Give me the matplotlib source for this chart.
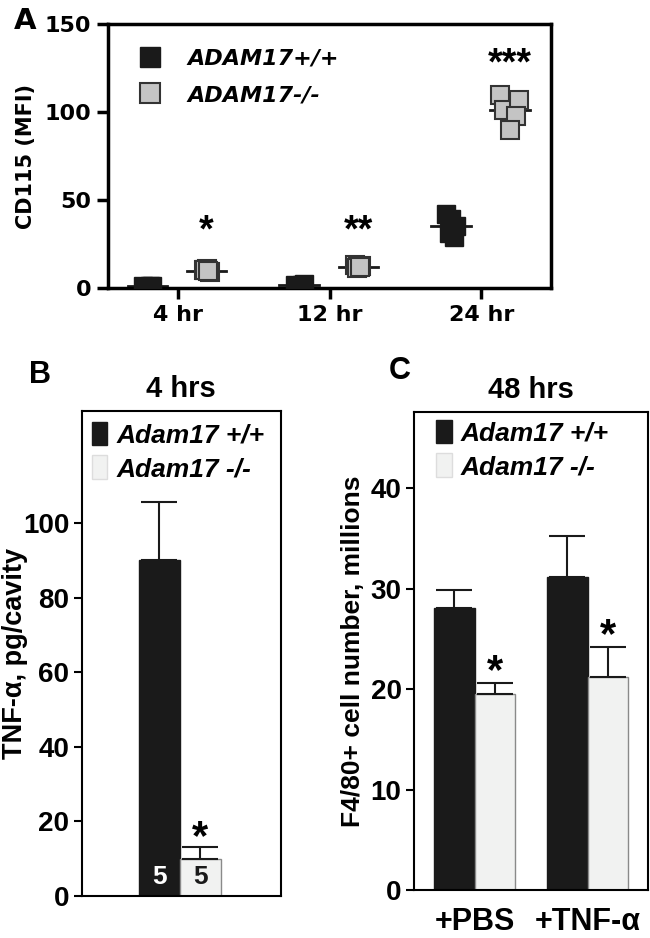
import matplotlib
matplotlib.use("Agg")
import matplotlib.pyplot as plt
from matplotlib.patches import Patch
from matplotlib.lines import Line2D
import numpy as np

plt.rcParams['font.family'] = ['Liberation Sans', 'DejaVu Sans']
plt.rcParams['font.weight'] = 'bold'

# ---------------- data ----------------
# panel A: CD115 MFI, individual mice
a_times = ["4 hr", "12 hr", "24 hr"]
a_wt = [[1.0, 0.6, 1.4, 0.8, 1.2],
        [1.5, 1.0, 2.0, 1.2, 1.8],
        [42, 39, 35, 31, 29]]
a_ko = [[10, 11, 9, 10, 9.5],
        [13, 12, 12.5, 11.5, 12],
        [110, 101, 107, 98, 90]]
a_yticks = [0, 50, 100, 150]
a_stars = ["*", "**", "***"]
a_star_y = [32, 32, 127]

# panel B: TNF-alpha at 4 hrs
b_means = [90, 10]
b_err = [15.5, 3]
b_n = ["5", "5"]

# panel C: F4/80+ cells at 48 hrs
c_groups = ["+PBS", "+TNF-\u03b1"]
c_wt = [28.1, 31.2]
c_wt_err = [1.8, 4.0]
c_ko = [19.5, 21.2]
c_ko_err = [1.1, 3.0]

legend_a = ["ADAM17+/+", "ADAM17-/-"]
legend_bc = ["Adam17 +/+", "Adam17 -/-"]

black = "#1a1a1a"
grey_a = "#c4c4c4"
grey_b = "#f1f2f1"
dv = 'DejaVu Sans'

fig = plt.figure(figsize=(6.5, 9.38), dpi=100)

# ================= panel A =================
axA = fig.add_axes([0.166, 0.693, 0.682, 0.281])
jit = np.array([-0.05, 0.0, 0.05, -0.02, 0.03])
jit_ko24 = np.array([-0.07, -0.04, 0.06, 0.04, 0.0])
for i in range(len(a_times)):
    xw = i - 0.20 + jit * 0.6
    axA.plot(xw, a_wt[i], ls='none', marker='s', ms=13.5, mfc=black, mec=black, zorder=3)
    axA.plot([i - 0.33, i - 0.07], [np.mean(a_wt[i])] * 2, color=black, lw=2, zorder=2)
    j = jit_ko24 if i == 2 else jit * 0.4
    xk = i + 0.19 + j
    axA.plot(xk, a_ko[i], ls='none', marker='s', ms=13.5, mfc=grey_a, mec='#333333', mew=1.5, zorder=3)
    axA.plot([i + 0.06, i + 0.32], [np.mean(a_ko[i])] * 2, color=black, lw=2, zorder=2)
    axA.text(i + 0.19, a_star_y[i], a_stars[i], ha='center', va='center', fontsize=27,
             fontweight='bold')

axA.set_xlim(-0.46, 2.46)
axA.set_ylim(0, 150)
axA.set_yticks(a_yticks, [str(v) for v in a_yticks], family=dv, fontsize=16, fontweight='bold')
axA.set_xticks(range(len(a_times)), a_times, family=dv, fontsize=16, fontweight='bold')
axA.tick_params(direction='out', length=8, width=2.5, pad=4)
for s in axA.spines.values():
    s.set_linewidth(2.5)
axA.set_ylabel("CD115 (MFI)", fontsize=15, fontweight='bold', labelpad=6, family=dv)
ha = [Line2D([], [], ls='none', marker='s', ms=14, mfc=black, mec=black),
      Line2D([], [], ls='none', marker='s', ms=14, mfc=grey_a, mec='#333333', mew=1.5)]
axA.legend(ha, legend_a, loc='upper left', bbox_to_anchor=(0.0, 0.985), frameon=False,
           handletextpad=0.7, labelspacing=0.75,
           prop={'family': dv, 'size': 16, 'weight': 'bold', 'style': 'italic'})
fig.text(0.022, 0.978, "A", fontsize=21, fontweight='bold', va='center', family=dv)

# ================= panel B =================
axB = fig.add_axes([0.126, 0.0448, 0.306, 0.517])
bx = [-0.5, 0.5]
axB.bar(bx, b_means, width=1.0, color=[black, grey_b], edgecolor=[black, '#8a8a8a'], linewidth=1)
for i in range(2):
    axB.errorbar(bx[i], b_means[i], yerr=[[0], [b_err[i]]], fmt='none', ecolor=black,
                 elinewidth=1.5, capsize=13, capthick=1.5)
    axB.text(bx[i], 5.0, b_n[i], ha='center', va='center', fontsize=19, fontweight='bold',
             color='white' if i == 0 else black)
axB.text(bx[1], b_means[1] + b_err[1] + 2.5, "*", ha='center', va='center', fontsize=30, fontweight='bold')
axB.set_xlim(-2.38, 2.45)
axB.set_ylim(0, 130)
axB.set_yticks([0, 20, 40, 60, 80, 100])
axB.set_xticks([])
axB.tick_params(axis='y', direction='out', length=6, width=1.5, labelsize=20, pad=3)
for s in axB.spines.values():
    s.set_linewidth(1.5)
axB.set_ylabel("TNF-\u03b1, pg/cavity", fontsize=19.5, fontweight='bold')
axB.yaxis.set_label_coords(-0.27, 0.5)
axB.set_title("4 hrs", fontsize=21, fontweight='bold', pad=10)
hb = [Patch(facecolor=black, edgecolor=black), Patch(facecolor=grey_b, edgecolor='#dddddd')]
axB.legend(hb, legend_bc, loc='upper left', bbox_to_anchor=(-0.031, 1.011), frameon=False,
           handlelength=0.6, handleheight=1.0, handletextpad=0.35, labelspacing=0.3, borderaxespad=0.2,
           prop={'size': 19, 'weight': 'bold', 'style': 'italic'})
fig.text(0.062, 0.600, "B", fontsize=22, fontweight='bold', va='center', ha='center')

# ================= panel C =================
axC = fig.add_axes([0.637, 0.0512, 0.36, 0.5096])
cx = np.arange(len(c_groups))
w = 0.36
axC.bar(cx - w / 2, c_wt, width=w, color=black, edgecolor=black, linewidth=1)
axC.bar(cx + w / 2, c_ko, width=w, color=grey_b, edgecolor='#8a8a8a', linewidth=1)
axC.errorbar(cx - w / 2, c_wt, yerr=[np.zeros(2), c_wt_err], fmt='none', ecolor=black,
             elinewidth=1.5, capsize=13, capthick=1.5)
axC.errorbar(cx + w / 2, c_ko, yerr=[np.zeros(2), c_ko_err], fmt='none', ecolor=black,
             elinewidth=1.5, capsize=13, capthick=1.5)
for i in range(len(c_groups)):
    axC.text(cx[i] + w / 2, c_ko[i] + c_ko_err[i] + 1.1, "*", ha='center', va='center',
             fontsize=30, fontweight='bold')
axC.set_xlim(-0.535, 1.535)
axC.set_ylim(0, 47.6)
axC.set_yticks([0, 10, 20, 30, 40])
axC.set_xticks(cx)
axC.set_xticklabels(c_groups)
axC.tick_params(axis='y', direction='out', length=6, width=1.5, labelsize=20, pad=3)
axC.tick_params(axis='x', length=0, labelsize=22, pad=12)
for s in axC.spines.values():
    s.set_linewidth(1.5)
axC.set_ylabel("F4/80+ cell number, millions", fontsize=19, fontweight='bold', labelpad=4)
axC.set_title("48 hrs", fontsize=21, fontweight='bold', pad=10)
axC.legend(hb, legend_bc, loc='upper left', bbox_to_anchor=(0.025, 1.017), frameon=False,
           handlelength=0.6, handleheight=1.0, handletextpad=0.35, labelspacing=0.3, borderaxespad=0.2,
           prop={'size': 19, 'weight': 'bold', 'style': 'italic'})
fig.text(0.615, 0.604, "C", fontsize=22, fontweight='bold', va='center', ha='center')

fig.savefig("out.png", dpi=100)
